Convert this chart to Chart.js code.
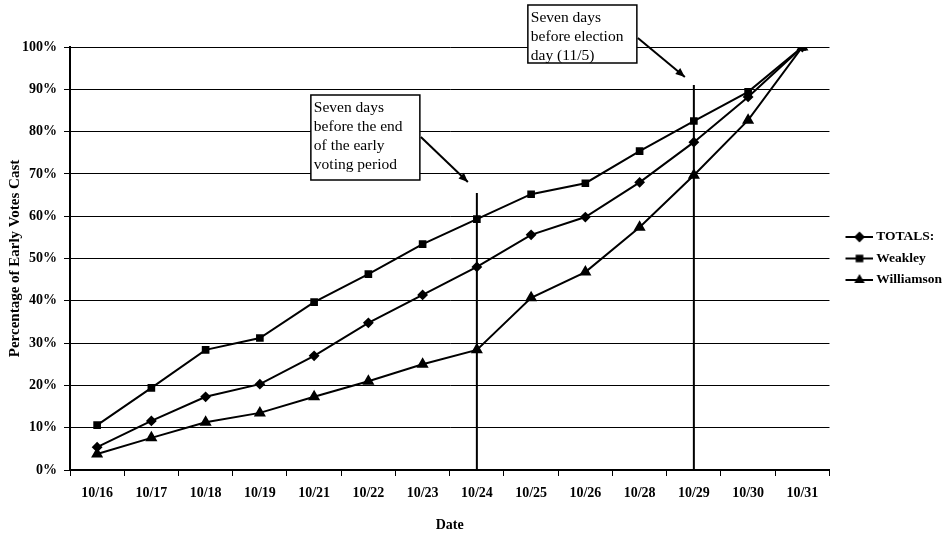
<!DOCTYPE html>
<html>
<head>
<meta charset="utf-8">
<script src="https://cdn.jsdelivr.net/npm/chart.js@4.4.0/dist/chart.umd.min.js"></script>
<style>
  body { margin: 0; background: #fff; }
  #wrap { width: 952px; height: 536px; }
</style>
</head>
<body>
<div id="wrap"><canvas id="chart" width="952" height="536"></canvas></div>
<script>
// chart data
var dates = ['10/16', '10/17', '10/18', '10/19', '10/21', '10/22', '10/23',
             '10/24', '10/25', '10/26', '10/28', '10/29', '10/30', '10/31'];
var totals     = [5.4, 11.6, 17.3, 20.3, 27.0, 34.8, 41.4, 48.0, 55.6, 59.8, 68.0, 77.5, 88.2, 100];
var weakley    = [10.6, 19.4, 28.4, 31.2, 39.7, 46.3, 53.4, 59.3, 65.2, 67.8, 75.4, 82.5, 89.4, 100];
var williamson = [3.8, 7.6, 11.3, 13.5, 17.3, 21.0, 25.0, 28.4, 40.7, 46.8, 57.4, 69.7, 82.7, 100];

// the two marker lines with their notes
var notes = [
  { date: '10/24', top: 65.5, lines: ['Seven days', 'before the end', 'of the early', 'voting period'],
    boxTop: 95, boxH: 85, arrowDy: 45 },
  { date: '10/29', top: 91, lines: ['Seven days', 'before election', 'day (11/5)'],
    boxTop: 5, boxH: 58, arrowDy: 39 }
];

var serif = '"Liberation Serif", "Times New Roman", serif';

// legend swatch: short line with the marker in the middle
function swatch(style) {
  var cv = document.createElement('canvas');
  cv.width = 40; cv.height = 12;
  var g = cv.getContext('2d');
  g.strokeStyle = '#000'; g.lineWidth = 2;
  g.beginPath(); g.moveTo(12, 6); g.lineTo(40, 6); g.stroke();
  g.fillStyle = '#000';
  Chart.helpers.drawPoint(g, { pointStyle: style, radius: 4, rotation: 0, borderWidth: 1 }, 26, 6);
  g.fill();
  return cv;
}

var notePlugin = {
  id: 'notes',
  afterDatasetsDraw: function (chart) {
    var ctx = chart.ctx, xs = chart.scales.x, ys = chart.scales.y;
    ctx.save();
    notes.forEach(function (n) {
      var x = xs.getPixelForValue(dates.indexOf(n.date));
      ctx.strokeStyle = '#000';
      ctx.lineWidth = 2;
      ctx.beginPath();
      ctx.moveTo(x, ys.getPixelForValue(0));
      ctx.lineTo(x, ys.getPixelForValue(n.top));
      ctx.stroke();

      // note box
      var bw = 109, lh = 19, bh = n.boxH;
      var bx = x - 57 - bw, by = n.boxTop;
      ctx.fillStyle = '#fff';
      ctx.fillRect(bx, by, bw, bh);
      ctx.lineWidth = 1.5;
      ctx.strokeRect(bx, by, bw, bh);
      ctx.fillStyle = '#000';
      ctx.font = '15.5px ' + serif;
      ctx.textBaseline = 'middle';
      ctx.textAlign = 'left';
      n.lines.forEach(function (t, i) {
        ctx.fillText(t, bx + 3, by + 13 + i * lh);
      });

      // arrow from box to the line
      var ax = bx + bw + 1, ay = by + 42;
      if (n.lines.length < 4) ay = by + 33;
      var ex = x - 9, ey = ay + n.arrowDy;
      ctx.lineWidth = 2;
      ctx.beginPath(); ctx.moveTo(ax, ay); ctx.lineTo(ex, ey); ctx.stroke();
      var ang = Math.atan2(ey - ay, ex - ax);
      ctx.beginPath();
      ctx.moveTo(ex, ey);
      ctx.lineTo(ex - 10 * Math.cos(ang - 0.4), ey - 10 * Math.sin(ang - 0.4));
      ctx.lineTo(ex - 10 * Math.cos(ang + 0.4), ey - 10 * Math.sin(ang + 0.4));
      ctx.closePath(); ctx.fill();
    });
    ctx.restore();
  }
};

function series(label, data, style) {
  return {
    label: label,
    data: data,
    borderColor: '#000',
    backgroundColor: '#000',
    borderWidth: 2,
    pointStyle: style,
    pointRadius: style === 'triangle' ? 5 : 4,
    pointBackgroundColor: '#000',
    pointBorderColor: '#000',
    tension: 0,
    fill: false
  };
}

Chart.defaults.font.family = serif;
Chart.defaults.color = '#000';

var legendIcons = [swatch('rectRot'), swatch('rect'), swatch('triangle')];

new Chart(document.getElementById('chart').getContext('2d'), {
  type: 'line',
  data: {
    labels: dates,
    datasets: [
      series('TOTALS:', totals, 'rectRot'),
      series('Weakley', weakley, 'rect'),
      series('Williamson', williamson, 'triangle')
    ]
  },
  options: {
    responsive: false,
    animation: false,
    layout: { padding: { top: 47, left: 4, right: 0, bottom: 0 } },
    plugins: {
      tooltip: { enabled: false },
      legend: {
        position: 'right',
        fullSize: false,
        labels: {
          usePointStyle: true,
          pointStyleWidth: 32,
          padding: 8,
          font: { size: 13.5, weight: 'bold' },
          color: '#000',
          generateLabels: function (chart) {
            return chart.data.datasets.map(function (d, i) {
              return { text: d.label, pointStyle: legendIcons[i], datasetIndex: i,
                       fillStyle: '#000', strokeStyle: '#000', lineWidth: 0 };
            });
          }
        }
      }
    },
    scales: {
      x: {
        offset: true,
        grid: { offset: true, drawOnChartArea: false, color: '#000', tickLength: 6 },
        border: { color: '#000', width: 2 },
        ticks: { font: { size: 14, weight: 'bold' }, padding: 9, maxRotation: 0, autoSkip: false },
        title: { display: true, text: 'Date', font: { size: 14, weight: 'bold' }, padding: { top: 10, bottom: 2 } },
        afterFit: function (s) { s.height = 66; }
      },
      y: {
        min: 0, max: 100,
        grid: { color: '#000', lineWidth: 1, tickLength: 6 },
        border: { color: '#000', width: 2 },
        ticks: { stepSize: 10, font: { size: 14, weight: 'bold' }, padding: 7,
                 callback: function (v) { return v + '%'; } },
        title: { display: true, text: 'Percentage of Early Votes Cast', font: { size: 15, weight: 'bold' }, padding: 2 },
        afterFit: function (s) { s.width = 66; }
      }
    }
  },
  plugins: [notePlugin]
});
</script>
</body>
</html>
